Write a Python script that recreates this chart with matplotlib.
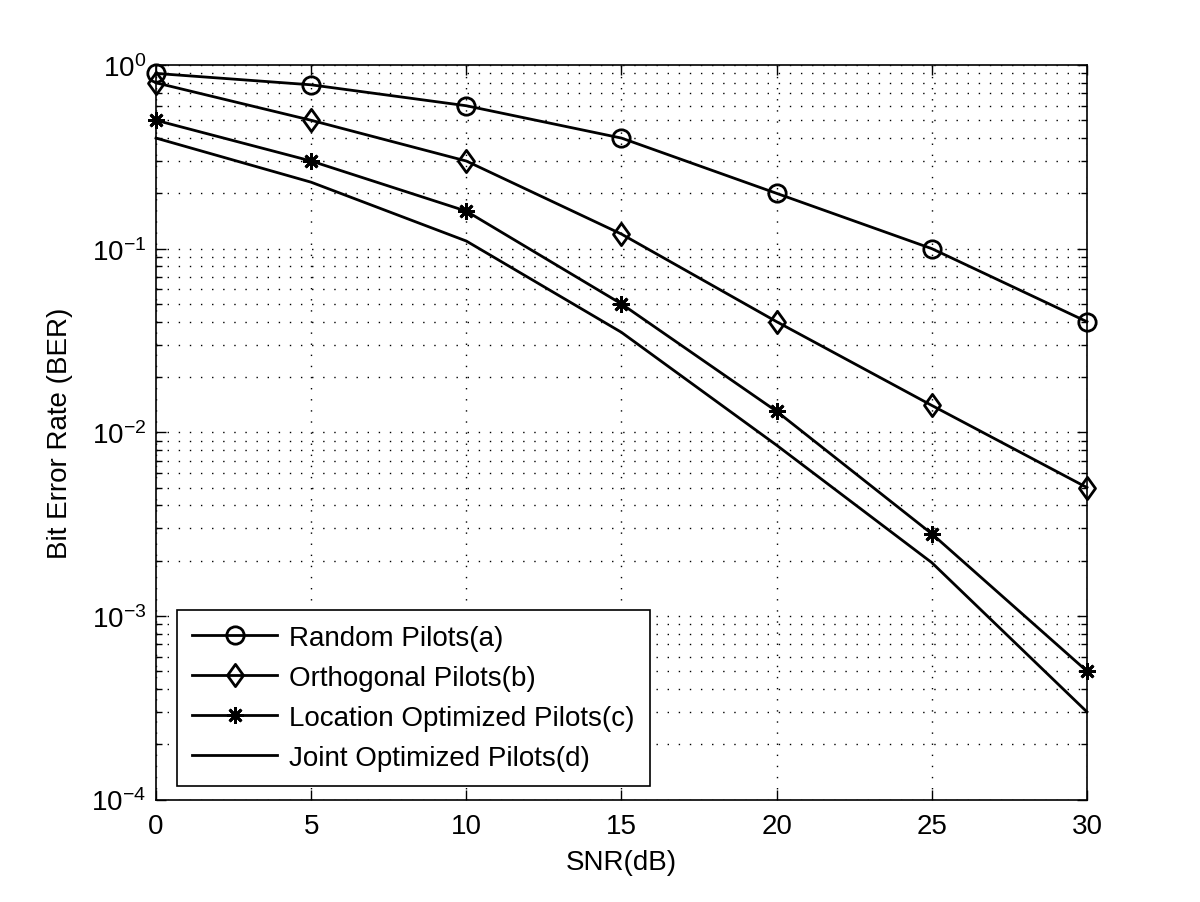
import matplotlib
matplotlib.use("Agg")
import matplotlib.pyplot as plt
from matplotlib.path import Path
from matplotlib.ticker import LogLocator, NullFormatter, FixedLocator

plt.rcParams['font.family'] = ['Liberation Sans', 'DejaVu Sans']
plt.rcParams['mathtext.fontset'] = 'custom'
plt.rcParams['mathtext.rm'] = 'Liberation Sans'
plt.rcParams['mathtext.it'] = 'Liberation Sans'
plt.rcParams['mathtext.default'] = 'regular'

snr = [0, 5, 10, 15, 20, 25, 30]
ber_random = [0.9, 0.78, 0.6, 0.4, 0.2, 0.1, 0.04]
ber_orth = [0.8, 0.5, 0.3, 0.12, 0.04, 0.014, 0.005]
ber_loc = [0.5, 0.3, 0.16, 0.05, 0.013, 0.0028, 0.0005]
ber_joint = [0.4, 0.23, 0.11, 0.035, 0.0085, 0.00195, 0.0003]
labels = ['Random Pilots(a)', 'Orthogonal Pilots(b)',
          'Location Optimized Pilots(c)', 'Joint Optimized Pilots(d)']
x_ticks = [0, 5, 10, 15, 20, 25, 30]
y_ticks = [1e-4, 1e-3, 1e-2, 1e-1, 1e0]
y_tick_labels = [r'$10^{-4}$', r'$10^{-3}$', r'$10^{-2}$', r'$10^{-1}$', r'$10^{0}$']

diamond = Path([(0, 1), (0.72, 0), (0, -1), (-0.72, 0), (0, 1)],
               [Path.MOVETO, Path.LINETO, Path.LINETO, Path.LINETO, Path.CLOSEPOLY])

fig = plt.figure(figsize=(12, 9.03), dpi=100)
ax = fig.add_axes([0.13, 0.1135, 0.7758, 0.8134])

lw = 2.0
ax.semilogy(snr, ber_random, color='k', lw=lw, marker='o', ms=12.5,
            mfc='none', mew=2.0, label=labels[0], clip_on=False, zorder=3)
ax.semilogy(snr, ber_orth, color='k', lw=lw, marker=diamond, ms=16,
            mfc='none', mew=2.0, label=labels[1], clip_on=False, zorder=3)
ax.semilogy(snr, ber_loc, color='k', lw=lw, marker=(8, 2, 0), ms=12,
            mew=2.0, label=labels[2], clip_on=False, zorder=3)
ax.semilogy(snr, ber_joint, color='k', lw=lw, label=labels[3],
            clip_on=False, zorder=3)

ax.set_xlim(0, 30)
ax.set_ylim(1e-4, 1e0)
ax.xaxis.set_major_locator(FixedLocator(x_ticks))
ax.set_yticks(y_ticks)
ax.set_yticklabels(y_tick_labels)
ax.yaxis.set_minor_locator(LogLocator(base=10, subs=range(2, 10), numticks=20))
ax.yaxis.set_minor_formatter(NullFormatter())

gridstyle = dict(color='k', linestyle=(0, (1, 7)), linewidth=1.0)
ax.grid(True, which='major', axis='both', **gridstyle)
ax.grid(True, which='minor', axis='y', **gridstyle)

ax.tick_params(which='both', direction='in', top=True, right=True,
               labelsize=20, width=1.0)
ax.tick_params(which='major', length=7)
ax.tick_params(which='minor', length=4)
ax.tick_params(axis='x', which='major', pad=10)
ax.tick_params(axis='y', which='major', pad=7)
for s in ax.spines.values():
    s.set_linewidth(1.2)

ax.set_xlabel('SNR(dB)', fontsize=20, labelpad=7)
ax.set_ylabel('Bit Error Rate (BER)', fontsize=20, labelpad=13)

leg = ax.legend(loc='lower left', bbox_to_anchor=(21/931, 13.5/734.5),
                borderaxespad=0, fontsize=20, handlelength=3.06,
                labelspacing=0.5, borderpad=0.55, handletextpad=0.43,
                fancybox=False, framealpha=1, edgecolor='k')
leg.get_frame().set_linewidth(1.2)

fig.savefig('out.png', dpi=100)
